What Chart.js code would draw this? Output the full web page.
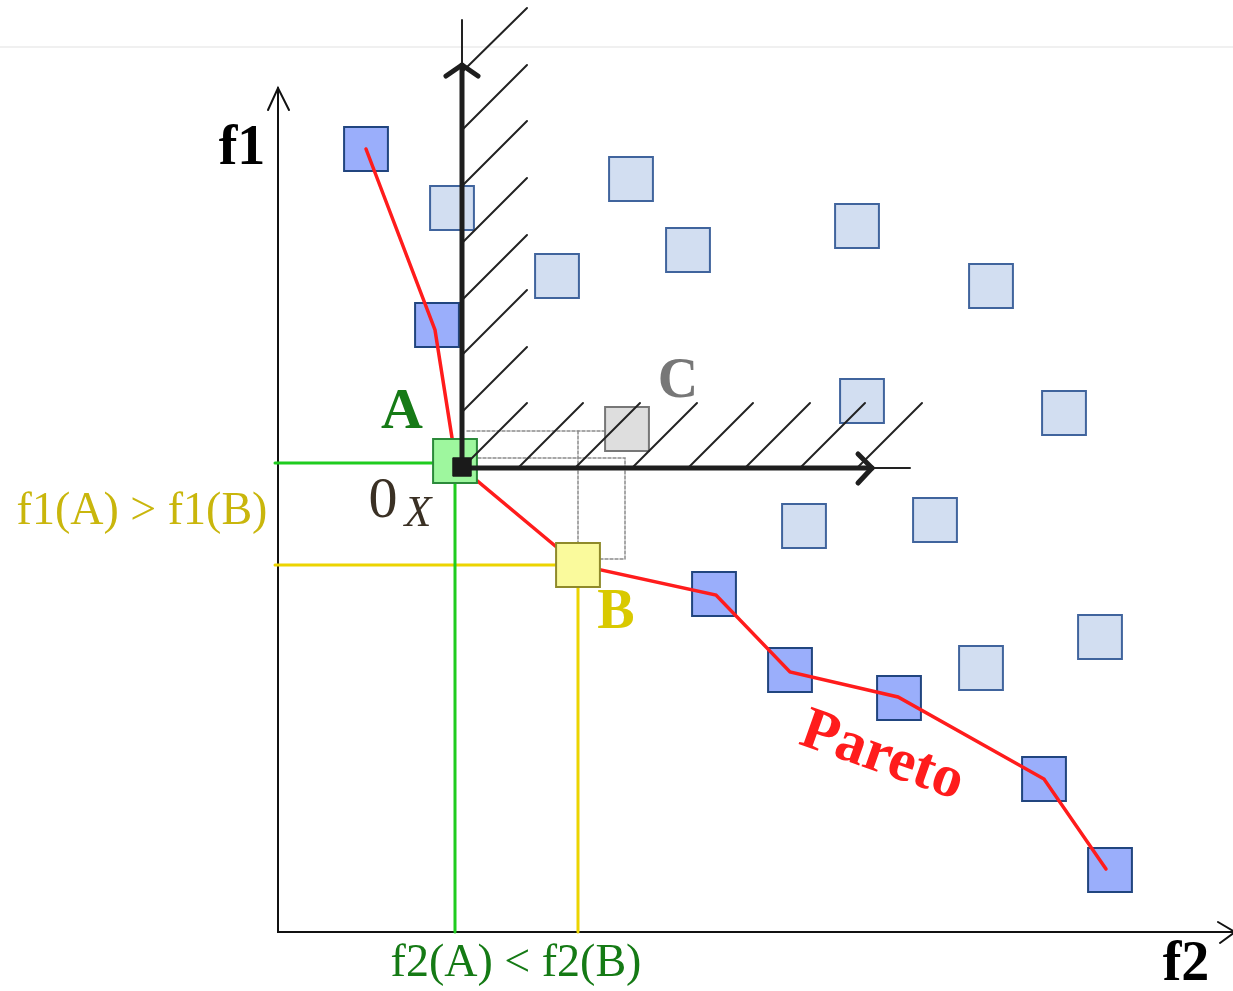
<!DOCTYPE html>
<html>
<head>
<meta charset="utf-8">
<script src="https://cdn.jsdelivr.net/npm/chart.js@4.4.1/dist/chart.umd.min.js"></script>
<style>
  html, body { margin: 0; padding: 0; background: #fff; }
  #wrap { position: relative; width: 1233px; height: 991px; }
</style>
</head>
<body>
<div id="wrap"><canvas id="pareto"></canvas></div>
<script>
// objective space: x = f2, y = f1, origin at the corner of the main axes
const paretoX = [8.8, 15.9, 43.6, 51.2, 62.1, 76.6, 83.2];
const paretoY = [78.3, 60.7, 33.8, 26.2, 23.4, 15.3, 6.2];
const otherX = [17.4, 35.3, 27.9, 41.0, 57.9, 71.3, 58.4, 78.6, 52.6, 65.7, 70.3, 82.2];
const otherY = [72.4, 75.3, 65.6, 68.2, 70.6, 64.6, 53.1, 51.9, 40.6, 41.2, 26.4, 29.5];
const pointA = [17.7, 47.1];
const pointB = [30.0, 36.7];
const pointC = [34.9, 50.3];
const originX = [18.4, 46.5]; // 0_X

// red front line
const frontX = [8.8, 15.7, 17.8, 30.0, 43.8, 51.2, 62.0, 76.6, 82.8];
const frontY = [78.3, 60.2, 46.9, 36.7, 33.7, 26.0, 23.5, 15.3, 6.3];

// guides and construction lines, each segment = [x0, y0, x1, y1, ...]
const greenGuide = [[-0.3, 46.9, 17.7, 46.9, 17.7, 0]];
const yellowGuide = [[-0.3, 36.7, 30.0, 36.7, 30.0, 0]];
const dashedBox = [
  [18.9, 50.1, 32.7, 50.1],
  [30.0, 50.1, 30.0, 38.9],
  [20.0, 47.4, 34.7, 47.4, 34.7, 37.3, 32.2, 37.3]
];
const mainAxes = [
  [0, 84.4, 0, 0, 95.7, 0],
  [-1.0, 82.2, 0, 84.4, 1.1, 82.2],
  [94.0, 1.0, 95.7, 0, 94.2, -1.1]
];
const innerAxesThick = [
  [18.4, 86.7, 18.4, 46.4, 59.4, 46.4],
  [16.8, 85.6, 18.4, 86.7, 20.0, 85.6],
  [58.0, 47.8, 59.4, 46.4, 58.0, 44.9]
];
const innerAxesThin = [
  [18.4, 91.2, 18.4, 86.7],
  [59.4, 46.4, 63.2, 46.4]
];
const hatches = [
  [18.4, 86.0, 24.9, 92.4],
  [18.4, 80.2, 24.9, 86.7],
  [18.4, 74.6, 24.9, 81.1],
  [18.4, 68.9, 24.9, 75.4],
  [18.4, 63.2, 24.9, 69.7],
  [18.4, 57.7, 24.9, 64.2],
  [18.4, 52.0, 24.9, 58.5],
  [18.4, 46.4, 24.9, 52.9],
  [24.0, 46.4, 30.5, 52.9],
  [29.7, 46.4, 36.2, 52.9],
  [35.4, 46.4, 41.9, 52.9],
  [41.0, 46.4, 47.5, 52.9],
  [46.7, 46.4, 53.2, 52.9],
  [52.2, 46.4, 58.7, 52.9],
  [57.9, 46.4, 64.4, 52.9]
];
const topRule = [[-27.8, 88.5, 95.5, 88.5]];

// text labels
const labelText = ["f1", "f2", "A", "B", "C", "0", "X", "f1(A) > f1(B)", "f2(A) < f2(B)", "Pareto"];
const labelX = [-3.6, 90.8, 12.4, 33.8, 40.0, 10.5, 14.0, -13.6, 23.8, 60.4];
const labelY = [78.2, -3.4, 51.9, 31.8, 54.9, 43.0, 41.8, 42.0, -3.2, 17.5];

function toPoints(xs, ys) {
  return xs.map((x, i) => ({ x: x, y: ys[i] }));
}
function segPoints(seg) {
  const pts = [];
  for (let i = 0; i < seg.length; i += 2) pts.push({ x: seg[i], y: seg[i + 1] });
  return pts;
}
function lineSets(segs, color, width, dash) {
  return segs.map(s => ({
    data: segPoints(s),
    showLine: true,
    borderColor: color,
    borderWidth: width,
    borderDash: dash || [],
    borderCapStyle: "round",
    borderJoinStyle: "miter",
    pointRadius: 0,
    pointHoverRadius: 0,
    tension: 0
  }));
}
function squareSet(pts, fill, border) {
  return {
    data: pts,
    pointStyle: "rect",
    pointRadius: 31,
    pointHoverRadius: 31,
    pointBackgroundColor: fill,
    pointBorderColor: border,
    pointBorderWidth: 2,
    showLine: false
  };
}

// first dataset ends up on top
const datasets = [].concat(
  [{
    data: [{ x: originX[0], y: originX[1] }],
    pointStyle: "rect",
    pointRadius: 13,
    pointBackgroundColor: "#1a1a1a",
    pointBorderColor: "#1a1a1a",
    pointBorderWidth: 1
  }],
  lineSets(innerAxesThick, "#1e1e1e", 5),
  lineSets(innerAxesThin, "#222", 2),
  lineSets(hatches, "#222", 2),
  [squareSet([{ x: pointA[0], y: pointA[1] }], "#9ef79e", "#2b8a3a")],
  [squareSet([{ x: pointB[0], y: pointB[1] }], "#fafa9c", "#8f8a2a")],
  lineSets([[].concat(...frontX.map((x, i) => [x, frontY[i]]))], "#ff1c1c", 3.5),
  [squareSet([{ x: pointC[0], y: pointC[1] }], "#dedede", "#777")],
  [squareSet(toPoints(paretoX, paretoY), "#9aaefb", "#21457f")],
  [squareSet(toPoints(otherX, otherY), "#d2def1", "#40649d")],
  lineSets(dashedBox, "#8a8a8a", 1.5, [3, 2]),
  lineSets(greenGuide, "#1fcc1f", 3),
  lineSets(yellowGuide, "#ecd400", 3),
  lineSets(mainAxes, "#111", 2),
  lineSets(topRule, "#f0f0f0", 2)
);

const labelStyles = [
  { font: "bold 56px 'Liberation Serif'", color: "#000" },
  { font: "bold 56px 'Liberation Serif'", color: "#000" },
  { font: "bold 58px 'Liberation Serif'", color: "#167a16" },
  { font: "bold 56px 'Liberation Serif'", color: "#d9c900" },
  { font: "bold 56px 'Liberation Serif'", color: "#777" },
  { font: "58px 'Liberation Serif'", color: "#3a3024" },
  { font: "italic 44px 'Liberation Serif'", color: "#3a3024" },
  { font: "46px 'Liberation Serif'", color: "#c9b60c" },
  { font: "46px 'Liberation Serif'", color: "#157a15" },
  { font: "bold 60px 'Liberation Serif'", color: "#ff1c1c", rotate: 19.5 }
];

const textPlugin = {
  id: "paretoText",
  afterDatasetsDraw(chart) {
    const ctx = chart.ctx;
    const xs = chart.scales.x, ys = chart.scales.y;
    labelText.forEach((t, i) => {
      const st = labelStyles[i];
      ctx.save();
      ctx.translate(xs.getPixelForValue(labelX[i]), ys.getPixelForValue(labelY[i]));
      if (st.rotate) ctx.rotate(st.rotate * Math.PI / 180);
      ctx.font = st.font;
      ctx.fillStyle = st.color;
      ctx.textAlign = "center";
      ctx.textBaseline = "middle";
      ctx.fillText(t, 0, 0);
      ctx.restore();
    });
  }
};

new Chart(document.getElementById("pareto"), {
  type: "scatter",
  data: { datasets: datasets },
  options: {
    responsive: true,
    maintainAspectRatio: false,
    animation: false,
    layout: { padding: 0, autoPadding: false },
    plugins: { legend: { display: false }, tooltip: { enabled: false } },
    scales: {
      x: { type: "linear", min: -27.8, max: 95.5, display: false },
      y: { type: "linear", min: -5.9, max: 93.2, display: false }
    }
  },
  plugins: [textPlugin]
});
</script>
</body>
</html>
